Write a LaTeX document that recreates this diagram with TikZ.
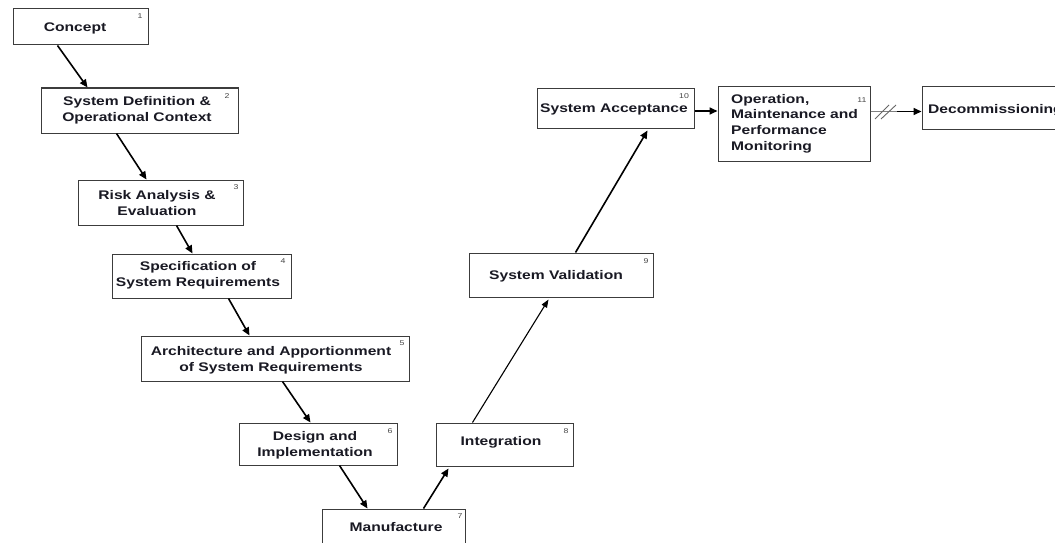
\documentclass[tikz,border=0pt]{standalone}
\usepackage{fontspec}
\setmainfont{Liberation Sans}[FakeStretch=1.25]
\usetikzlibrary{arrows.meta}
\definecolor{boxline}{RGB}{60,60,60}
\definecolor{txt}{RGB}{25,25,35}
\definecolor{numc}{RGB}{70,70,70}
\tikzset{
  stage/.style={draw=boxline, line width=1pt, rectangle, fill=white, inner sep=0pt},
  lbl/.style={font=\fontsize{12.5}{16}\selectfont\bfseries, text=txt, align=center, inner sep=0pt},
  lbll/.style={font=\fontsize{12.5}{15.6}\selectfont\bfseries, text=txt, align=left, inner sep=0pt},
  num/.style={font=\fontsize{7}{8}\selectfont, text=numc, inner sep=0pt},
  flow/.style={line width=1.6pt, -{Triangle[length=8pt,width=7pt]}},
  thinflow/.style={line width=1.1pt, -{Triangle[length=8pt,width=6pt]}},
}
\begin{document}
\begin{tikzpicture}[x=1pt,y=-1pt]
\useasboundingbox (0,0) rectangle (1055,543);
% boxes
\node[stage, minimum width=135pt, minimum height=36pt] (b1) at (80.5,27) {};
\node[stage, minimum width=197pt, minimum height=45pt] (b2) at (139.5,110.5) {};
\node[stage, minimum width=165pt, minimum height=45pt] (b3) at (160.5,202.5) {};
\node[stage, minimum width=179pt, minimum height=44pt] (b4) at (201.5,276) {};
\node[stage, minimum width=268pt, minimum height=45pt] (b5) at (275,358.5) {};
\node[stage, minimum width=158pt, minimum height=42pt] (b6) at (318,444) {};
\node[stage, minimum width=143pt, minimum height=50pt] (b7) at (393.5,534) {};
\node[stage, minimum width=137pt, minimum height=43pt] (b8) at (504.5,444.5) {};
\node[stage, minimum width=184pt, minimum height=44pt] (b9) at (561,275) {};
\node[stage, minimum width=157pt, minimum height=40pt] (b10) at (615.5,108) {};
\node[stage, minimum width=152pt, minimum height=74pt] (b11) at (794,124) {};
\node[stage, minimum width=140pt, minimum height=42pt] (b12) at (992,108) {};
% texts
\node[lbl] (t1) at (75,28) {Concept};
\node[lbl] (t2) at (137,110.5) {System Definition \&\\Operational Context};
\node[lbl] (t3) at (157,203) {Risk Analysis \&\\Evaluation};
\node[lbl] (t4) at (198,275) {Specification of\\System Requirements};
\node[lbl] (t5) at (271,360) {Architecture and Apportionment\\of System Requirements};
\node[lbl] (t6) at (315,445) {Design and\\Implementation};
\node[lbl] (t7) at (396,527) {Manufacture};
\node[lbl] (t8) at (501,442) {Integration};
\node[lbl] (t9) at (556,276) {System Validation};
\node[lbl] (t10) at (614,109) {System Acceptance};
\node[lbll, anchor=west] (t11) at (731,123.5) {Operation,\\Maintenance and\\Performance\\Monitoring};
\node[lbl, anchor=west] (t12) at (928,110) {Decommissioning};
% numbers
\node[num] (n1) at (140,16) {1};
\node[num] (n2) at (227,96) {2};
\node[num] (n3) at (236,187) {3};
\node[num] (n4) at (283,261) {4};
\node[num] (n5) at (402,343) {5};
\node[num] (n6) at (390,431) {6};
\node[num] (n7) at (460,516) {7};
\node[num] (n8) at (566,431) {8};
\node[num] (n9) at (646,261) {9};
\node[num] (n10) at (684,96) {10};
\node[num] (n11) at (862,100) {11};
% connectors
\draw[flow] ([xshift=45pt]b1.south west) -- ([xshift=47pt]b2.north west);
\draw[flow] ([xshift=76pt]b2.south west) -- ([xshift=69pt]b3.north west);
\draw[flow] ([xshift=99pt]b3.south west) -- ([xshift=81pt]b4.north west);
\draw[flow] ([xshift=117pt]b4.south west) -- ([xshift=109pt]b5.north west);
\draw[flow] ([xshift=142pt]b5.south west) -- ([xshift=72pt]b6.north west);
\draw[flow] ([xshift=101pt]b6.south west) -- ([xshift=46pt]b7.north west);
\draw[flow] ([xshift=102pt]b7.north west) -- ([xshift=13pt,yshift=-2pt]b8.south west);
\draw[thinflow] ([xshift=37pt]b8.north west) -- ([xshift=80pt,yshift=-2pt]b9.south west);
\draw[flow] ([xshift=107pt]b9.north west) -- ([xshift=111pt,yshift=-2pt]b10.south west);
\draw[flow] ([yshift=-3pt]b10.east) -- ([yshift=-3pt]b10.east -| b11.west);
\coordinate (brk) at (897,111.5);
\draw[line width=0.9pt, gray] ([yshift=-3.5pt]b11.east |- b12.west) -- (brk);
\draw[line width=0.9pt, gray!80!black] (875,119) -- (889,105) (881,119) -- (896,105);
\draw[flow] (brk) -- ([yshift=-3.5pt]b12.west);
\end{tikzpicture}
\end{document}
